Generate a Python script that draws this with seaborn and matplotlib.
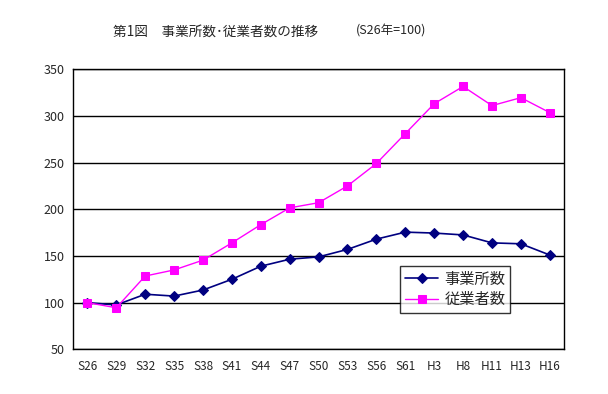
import matplotlib
matplotlib.use("Agg")
import matplotlib.pyplot as plt
import seaborn as sns
import pandas as pd
import numpy as np

# データ
years = ["S26", "S29", "S32", "S35", "S38", "S41", "S44", "S47", "S50",
         "S53", "S56", "S61", "H3", "H8", "H11", "H13", "H16"]
jigyosho = [100, 97.5, 109, 107, 113.5, 125, 139, 146.5, 149,
            157, 168, 175.5, 174.5, 172.5, 164, 163, 151]
jugyosha = [100, 94.5, 128.5, 135, 145.5, 164, 183.5, 201.5, 207,
            225, 249, 281, 313, 331.5, 311, 319.5, 303.5]

n = len(years)

df = pd.DataFrame({"year": years, "事業所数": jigyosho, "従業者数": jugyosha})
df["pos"] = np.arange(n)

sns.set_style("white")
plt.rcParams['font.family'] = ['Noto Sans CJK JP', 'DejaVu Sans']

fig = plt.figure(figsize=(6.08, 3.94), dpi=100)
ax = fig.add_axes([0.120, 0.1134, 0.808, 0.711])

sns.lineplot(data=df, x="pos", y="事業所数", ax=ax, color="#000080", marker="D",
             markersize=5, markeredgecolor="#000080", linewidth=1.2, label="事業所数")
sns.lineplot(data=df, x="pos", y="従業者数", ax=ax, color="#FF00FF", marker="s",
             markersize=6, markeredgecolor="#FF00FF", linewidth=1.0, label="従業者数")

ax.set_xlim(-0.5, n - 0.5)
ax.set_ylim(50, 350)
ax.set_yticks(range(50, 351, 50))
ax.set_xticks(range(n))
ax.set_xticklabels(years, fontsize=8.5)
ax.tick_params(axis="x", length=0, pad=8)
ax.set_xticks(np.arange(0.5, n - 1, 1), minor=True)
ax.tick_params(axis="x", which="minor", direction="in", length=4, color="black")
ax.tick_params(axis="y", labelsize=9, length=0, pad=6)
ax.set_xlabel("")
ax.set_ylabel("")
ax.grid(axis="y", color="black", linewidth=1)
for s in ax.spines.values():
    s.set_color("black")
    s.set_linewidth(1)

leg = ax.legend(loc="lower left", bbox_to_anchor=(0.666, 0.13), fontsize=11,
                frameon=True, fancybox=False, edgecolor="black", borderpad=0.3,
                labelspacing=0.25, handlelength=2.2, handletextpad=0.4, borderaxespad=0)
leg.get_frame().set_linewidth(1)

fig.text(0.186, 0.92, "第1図　事業所数･従業者数の推移", fontsize=9.8, va="center")
fig.text(0.585, 0.92, "(S26年=100)", fontsize=9, va="center")

fig.savefig("out.png", dpi=100, facecolor="white")
